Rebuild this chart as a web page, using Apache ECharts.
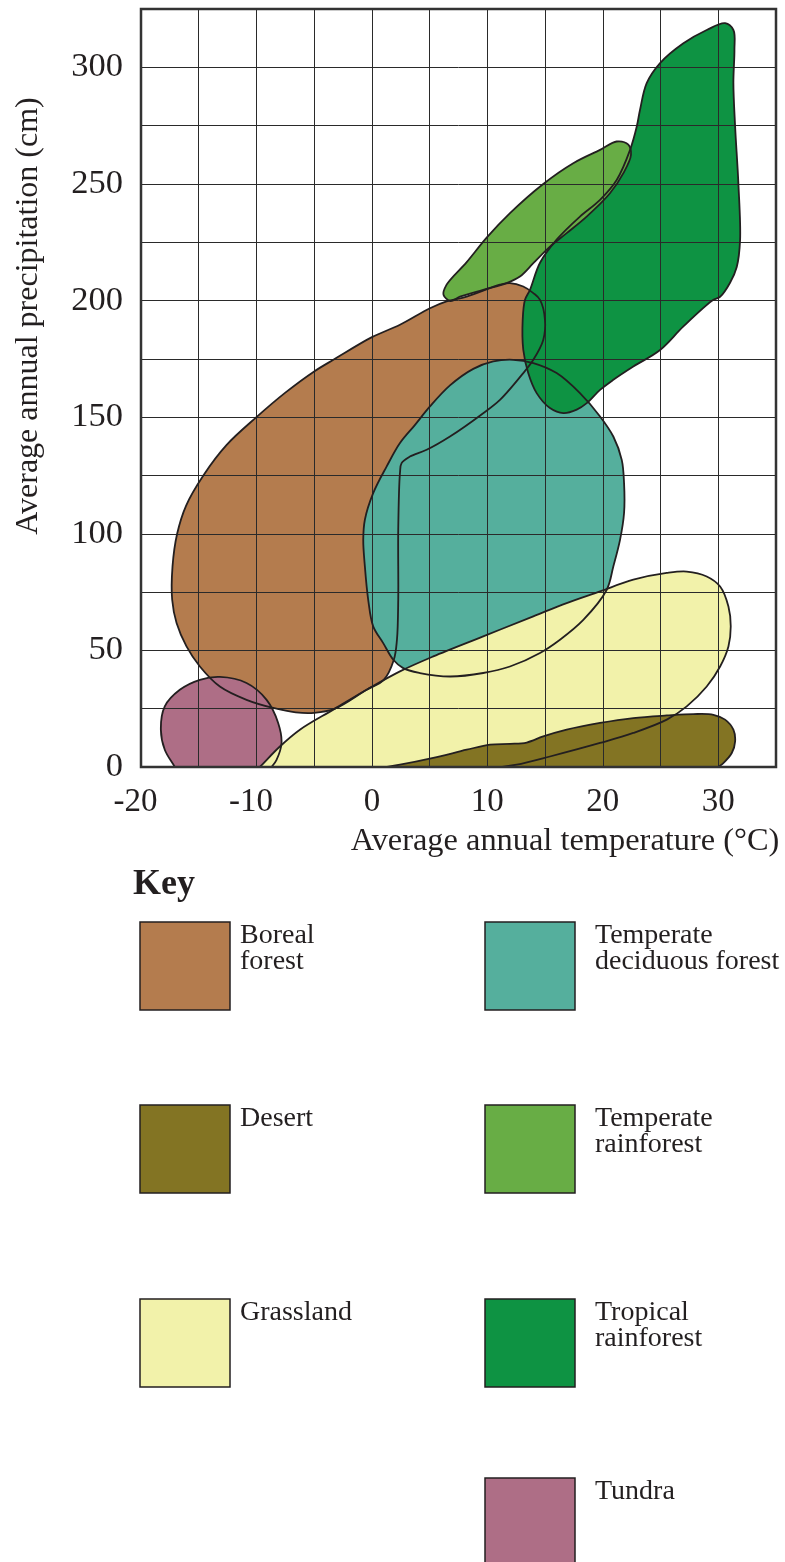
<!DOCTYPE html>
<html>
<head>
<meta charset="utf-8">
<script src="https://cdn.jsdelivr.net/npm/echarts@6/dist/echarts.min.js"></script>
<style>html,body{margin:0;padding:0;background:#fff}#chart{width:785px;height:1562px}</style>
</head>
<body>
<div id="chart"></div>
<script>
// ---------- data (temperature °C, precipitation cm) ----------
const xTicks = [-20, -10, 0, 10, 20, 30];
const yTicks = [0, 50, 100, 150, 200, 250, 300];
const xTitle = 'Average annual temperature (°C)';
const yTitle = 'Average annual precipitation (cm)';
const keyTitle = 'Key';

const biomeNames = ['Boreal forest', 'Temperate deciduous forest', 'Desert', 'Temperate rainforest', 'Grassland', 'Tropical rainforest', 'Tundra'];
const keyLabels = ['Boreal\nforest', 'Temperate\ndeciduous forest', 'Desert', 'Temperate\nrainforest', 'Grassland', 'Tropical\nrainforest', 'Tundra'];
const biomeColors = ['#b47c4e', '#55af9d', '#837423', '#68ad45', '#f2f2aa', '#0e9343', '#ae6e86'];

const borealForest = [
  [2.43,189.6],[5.03,196.7],[6.47,199.6],[8.21,201.7],[11.09,206.8],[11.96,207.5],[13.11,206.0],[13.98,203.2],
  [14.56,200.3],[14.99,191.7],[14.84,183.1],[13.98,174.6],[13.11,168.9],[11.09,157.4],[9.64,151.7],[6.76,141.7],
  [4.74,136.0],[3.29,133.1],[2.57,130.3],[2.43,126.0],[2.28,101.7],[2.28,71.7],[2.17,54.6],[1.9,46.0],[1.0,37.2],
  [-0.46,33.1],[-3.2,25.0],[-5.0,23.2],[-6.6,23.4],[-8.55,25.3],[-10.86,28.8],[-13.17,34.5],[-14.9,43.1],
  [-16.06,51.7],[-16.92,61.7],[-17.3,71.7],[-17.27,86.0],[-16.87,100.0],[-16.1,112.0],[-14.6,125.0],
  [-12.6,138.0],[-10.0,150.0],[-7.5,160.5],[-5.0,169.6],[-3.2,175.0],[0.0,184.3]
];
const temperateDeciduous = [
  [12.24,174.6],[13.98,173.2],[16.0,168.9],[18.02,160.3],[19.76,150.3],[20.91,141.7],[21.64,131.7],[21.84,121.7],
  [21.84,108.9],[21.49,97.4],[20.91,86.0],[20.34,76.0],[18.31,63.1],[16.29,54.6],[14.56,48.9],[11.96,43.1],
  [9.64,40.3],[6.76,38.8],[4.16,40.3],[2.71,42.4],[1.85,46.0],[0.98,53.1],[0.11,60.3],[-0.32,71.7],[-0.61,86.0],
  [-0.75,97.4],[-0.61,106.0],[0.11,117.4],[1.27,128.8],[2.43,138.9],[3.7,146.5],[5.03,154.6],[6.76,163.6],
  [8.78,170.7],[10.51,173.9]
];
const desert = [
  [1.13,0],[2.43,1.0],[5.31,3.9],[8.21,7.4],[10.23,9.6],[11.96,9.9],[13.41,10.5],[14.84,13.1],[16.87,16.0],
  [19.76,18.9],[22.64,21.0],[25.54,22.1],[27.84,22.7],[29.58,22.4],[30.59,20.3],[31.31,16.0],[31.46,11.0],
  [31.17,6.0],[30.44,1.7],[30.01,0]
];
const temperateRainforest = [
  [21.2,268.2],[22.21,266.8],[22.44,262.5],[21.78,254.6],[20.62,246.0],[18.6,236.0],[16.87,228.9],[15.42,223.1],
  [13.98,216.0],[12.82,210.3],[11.67,207.5],[9.64,204.6],[7.63,201.7],[6.8,199.8],[6.2,202.5],[6.47,206.8],
  [8.21,216.5],[9.94,227.0],[11.96,237.5],[14.84,250.0],[17.44,258.9],[19.76,264.6]
];
const grassland = [
  [-9.71,0],[-7.97,8.8],[-6.24,16.0],[-3.35,24.6],[-0.46,33.1],[2.43,41.0],[5.31,47.4],[9.64,56.0],[13.98,64.6],
  [16.87,70.3],[19.76,75.3],[22.64,80.3],[25.54,83.2],[27.27,83.8],[29.0,81.7],[30.16,77.4],[30.88,68.8],
  [31.08,60.3],[30.88,51.7],[30.16,43.1],[29.0,34.5],[27.27,26.0],[25.54,20.3],[22.64,14.6],[19.76,10.3],
  [15.42,4.5],[12.54,1.0],[11.09,0]
];
const tropicalRainforest = [
  [30.59,318.9],[31.31,316.0],[31.40,307.5],[31.31,293.3],[31.46,274.5],[31.74,250.4],[31.89,226.0],[31.60,214.4],
  [31.02,207.6],[30.16,201.6],[29.58,200.3],[26.98,188.9],[24.96,178.8],[22.64,171.7],[20.91,166.0],[19.76,161.7],
  [18.61,156.0],[17.74,153.2],[16.58,151.7],[15.42,153.9],[14.27,160.3],[13.54,168.9],[13.11,178.9],[13.06,191.7],
  [13.26,200.3],[13.69,204.6],[14.56,216.2],[16.0,226.1],[18.02,236.0],[19.76,243.2],[21.2,251.7],[22.36,264.6],
  [22.94,274.6],[23.22,281.7],[23.8,293.2],[24.96,301.8],[26.98,310.3],[29.0,316.0]
];
const tundra = [
  [-13.17,38.6],[-10.86,36.0],[-9.12,28.8],[-8.12,18.9],[-7.83,10.3],[-8.26,3.1],[-8.69,0],[-17.07,0],
  [-17.94,7.4],[-18.28,16.0],[-17.94,26.0],[-16.64,33.1],[-14.9,37.4]
];

const polygons = [borealForest, temperateDeciduous, desert, temperateRainforest, grassland, tropicalRainforest, tundra];
// painting order (back to front)
const drawOrder = [0, 6, 1, 4, 2, 5, 3];

// ---------- styling ----------
const FONT = "'Liberation Serif', 'Times New Roman', serif";
const INK = '#231f20';

// closed centripetal Catmull-Rom outline through the projected points;
// points lying on the x-axis (precipitation 0) are kept as sharp corners
function outlinePath(pix, corner) {
  const n = pix.length;
  const dist = function (a, b) { return Math.sqrt(Math.hypot(a[0] - b[0], a[1] - b[1])) || 1e-6; };
  let d = 'M' + pix[0][0].toFixed(2) + ' ' + pix[0][1].toFixed(2);
  for (let i = 0; i < n; i++) {
    const j = (i + 1) % n;
    const p1 = pix[i], p2 = pix[j];
    if (corner[i] && corner[j]) { d += 'L' + p2[0].toFixed(2) + ' ' + p2[1].toFixed(2); continue; }
    const p0 = corner[i] ? [2 * p1[0] - p2[0], 2 * p1[1] - p2[1]] : pix[(i - 1 + n) % n];
    const p3 = corner[j] ? [2 * p2[0] - p1[0], 2 * p2[1] - p1[1]] : pix[(i + 2) % n];
    const d1 = dist(p0, p1), d2 = dist(p1, p2), d3 = dist(p2, p3);
    const b1 = [0, 1].map(function (k) {
      return (d1 * d1 * p2[k] - d2 * d2 * p0[k] + (2 * d1 * d1 + 3 * d1 * d2 + d2 * d2) * p1[k]) / (3 * d1 * (d1 + d2));
    });
    const b2 = [0, 1].map(function (k) {
      return (d3 * d3 * p1[k] - d2 * d2 * p3[k] + (2 * d3 * d3 + 3 * d3 * d2 + d2 * d2) * p2[k]) / (3 * d3 * (d3 + d2));
    });
    d += 'C' + b1[0].toFixed(2) + ' ' + b1[1].toFixed(2) + ' ' + b2[0].toFixed(2) + ' ' + b2[1].toFixed(2) + ' ' +
      p2[0].toFixed(2) + ' ' + p2[1].toFixed(2);
  }
  return d + 'Z';
}

function makeRenderer(points, fill, stroke) {
  return function (params, api) {
    if (params.dataIndex !== 0) return null;
    const pix = points.map(function (p) { return api.coord(p); });
    const corner = points.map(function (p) { return p[1] === 0; });
    return {
      type: 'path',
      shape: { pathData: outlinePath(pix, corner) },
      style: stroke ? { fill: 'none', stroke: INK, lineWidth: 1.8 } : { fill: fill, stroke: 'none' }
    };
  };
}

const series = [];
drawOrder.forEach(function (i) {
  series.push({
    type: 'custom', name: biomeNames[i], z: 1, clip: true, silent: true,
    data: polygons[i], encode: { x: 0, y: 1 },
    renderItem: makeRenderer(polygons[i], biomeColors[i], false)
  });
});
drawOrder.forEach(function (i) {
  series.push({
    type: 'custom', name: biomeNames[i] + ' outline', z: 3, clip: true, silent: true,
    data: polygons[i], encode: { x: 0, y: 1 },
    renderItem: makeRenderer(polygons[i], biomeColors[i], true)
  });
});

// ---------- key (legend) ----------
const keyCells = [[140, 922], [485, 922], [140, 1105], [485, 1105], [140, 1299], [485, 1299], [485, 1478]];
const graphics = [{
  type: 'text', left: 133, top: 867,
  style: { text: keyTitle, fontFamily: FONT, fontWeight: 'bold', fontSize: 36, fill: INK }
}];
keyCells.forEach(function (c, i) {
  graphics.push({
    type: 'rect', shape: { x: c[0], y: c[1], width: 90, height: 88 },
    style: { fill: biomeColors[i], stroke: INK, lineWidth: 1.5 }
  });
  graphics.push({
    type: 'text', x: c[0] + (c[0] < 300 ? 100 : 110), y: c[1] + 1,
    style: { text: keyLabels[i], fontFamily: FONT, fontSize: 28, lineHeight: 26, fill: INK, verticalAlign: 'top', align: 'left' }
  });
});

const chart = echarts.init(document.getElementById('chart'), null, { renderer: 'canvas' });
chart.setOption({
  animation: false,
  backgroundColor: '#ffffff',
  grid: {
    left: 141, top: 9, width: 635, height: 758,
    show: true, borderColor: '#333', borderWidth: 2.5, backgroundColor: 'transparent', z: 5,
    containLabel: false, outerBoundsMode: 'none'
  },
  xAxis: {
    type: 'value', min: -20, max: 35, interval: 5, z: 2,
    name: xTitle, nameLocation: 'middle', nameGap: 58,
    nameTextStyle: { fontFamily: FONT, fontSize: 32.4, color: INK, padding: [0, 0, 0, 213] },
    axisLine: { show: false }, axisTick: { show: false },
    splitLine: { show: true, lineStyle: { color: '#2a2a2a', width: 1 } },
    axisLabel: {
      margin: 19, fontFamily: FONT, fontSize: 33, color: INK, showMinLabel: true, showMaxLabel: true,
      formatter: function (v) {
        if (xTicks.indexOf(v) < 0) return '';
        return v < 0 ? '{neg|' + v + '}' : String(v);
      },
      rich: { neg: { fontFamily: FONT, fontSize: 33, color: INK, padding: [0, 11, 0, 0] } }
    }
  },
  yAxis: {
    type: 'value', min: 0, max: 325, interval: 25, z: 2,
    name: yTitle, nameLocation: 'middle', nameGap: 96,
    nameTextStyle: { fontFamily: FONT, fontSize: 32, color: INK, padding: [0, 0, 0, 144] },
    axisLine: { show: false }, axisTick: { show: false },
    splitLine: { show: true, lineStyle: { color: '#2a2a2a', width: 1 } },
    axisLabel: {
      margin: 18, fontFamily: FONT, fontSize: 34.5, color: INK, showMinLabel: true, showMaxLabel: true,
      formatter: function (v) { return yTicks.indexOf(v) < 0 ? '' : String(v); }
    }
  },
  series: series,
  graphic: graphics
});
</script>
</body>
</html>
